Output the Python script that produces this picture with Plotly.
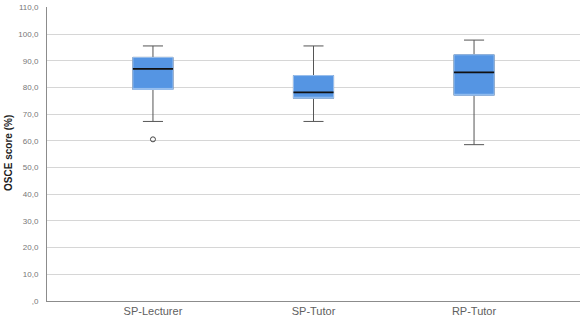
import plotly.graph_objects as go

categories = ["SP-Lecturer", "SP-Tutor", "RP-Tutor"]
q1 = [79.3, 76.0, 77.1]
median = [87.0, 78.2, 85.7]
q3 = [91.3, 84.5, 92.3]
lower_whisker = [67.3, 67.3, 58.6]
upper_whisker = [95.6, 95.6, 97.8]
outlier_group = [0]
outlier_value = [60.6]
y_ticks = [0, 10, 20, 30, 40, 50, 60, 70, 80, 90, 100, 110]
y_tick_labels = [",0", "10,0", "20,0", "30,0", "40,0", "50,0", "60,0", "70,0",
                 "80,0", "90,0", "100,0", "110,0"]

pos = list(range(len(categories)))
BOX_W = 0.25
FILL = "#5595E3"
FONT = "Liberation Sans, Arial, sans-serif"

fig = go.Figure()
# whiskers
fig.add_trace(go.Box(
    x=pos, q1=q1, median=median, q3=q3,
    lowerfence=lower_whisker, upperfence=upper_whisker,
    width=BOX_W, whiskerwidth=0.5, fillcolor=FILL,
    line=dict(color="#555555", width=1), boxpoints=False,
    showlegend=False, hoverinfo="skip"))
# box body
fig.add_trace(go.Box(
    x=pos, q1=q1, median=q1, q3=q3,
    lowerfence=q1, upperfence=q3,
    width=BOX_W, whiskerwidth=0, fillcolor=FILL,
    line=dict(color="#9CC2F0", width=1), boxpoints=False,
    showlegend=False, hoverinfo="skip"))
# median line
fig.add_trace(go.Box(
    x=pos, q1=median, median=median, q3=median,
    lowerfence=median, upperfence=median,
    width=BOX_W, whiskerwidth=0, fillcolor="rgba(0,0,0,0)",
    line=dict(color="#111111", width=1.8), boxpoints=False,
    showlegend=False, hoverinfo="skip"))
# outliers
fig.add_trace(go.Scatter(
    x=outlier_group, y=outlier_value, mode="markers",
    marker=dict(symbol="circle-open", size=5, color="#444444", line=dict(width=1)),
    showlegend=False, hoverinfo="skip"))

fig.update_layout(
    width=587, height=323,
    margin=dict(l=47, r=7, t=3, b=22),
    paper_bgcolor="white", plot_bgcolor="white",
    font=dict(family=FONT),
    boxmode="overlay",
    xaxis=dict(
        range=[-0.66, 2.66], tickvals=pos, ticktext=categories,
        showgrid=False, zeroline=False, showline=True,
        linecolor="#8c8c8c", linewidth=1, ticks="",
        tickfont=dict(size=11, color="#606060", family=FONT),
        fixedrange=True),
    yaxis=dict(
        range=[0, 110.2], tickvals=y_ticks, ticktext=y_tick_labels,
        showgrid=True, gridcolor="#d6d6d6", gridwidth=1, zeroline=False,
        showline=True, linecolor="#8c8c8c", linewidth=1, ticks="",
        ticklabelstandoff=6, ticklabeloverflow="allow",
        tickfont=dict(size=8, color="#777777", family=FONT),
        fixedrange=True),
    annotations=[dict(
        text="<b>OSCE score (%)</b>", textangle=-90,
        xref="paper", yref="paper", x=(8.5 - 47) / 533, y=0.502,
        xanchor="center", yanchor="middle", showarrow=False,
        font=dict(size=10, color="#222222", family=FONT))],
)

fig.write_html("out.html")
